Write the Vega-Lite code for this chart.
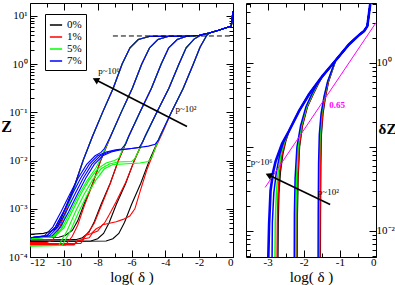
{
"$schema":"https://vega.github.io/schema/vega-lite/v6.json",
"padding":{"left":0,"top":2,"right":1,"bottom":0},
"spacing":9,
"config":{"font":"Liberation Serif","view":{"stroke":"black","strokeWidth":1},
"axis":{"domain":false,"grid":false,"labelFont":"Liberation Serif","titleFont":"Liberation Serif","labelFontSize":11,"titleFontSize":15,"titleFontWeight":"normal","tickColor":"black","labelColor":"black","titleColor":"black","tickWidth":1},
"legend":{"labelFont":"Liberation Serif"}},
"datasets":{
"L":[
{"c":"0%","k":0,"x":-12,"z":0.000295},{"c":"0%","k":0,"x":-11.2,"z":0.000309},{"c":"0%","k":0,"x":-10.8,"z":0.000339},{"c":"0%","k":0,"x":-10.46,"z":0.000389},{"c":"0%","k":0,"x":-10.16,"z":0.000617},{"c":"0%","k":0,"x":-9.8,"z":0.00129},{"c":"0%","k":0,"x":-9.31,"z":0.00347},{"c":"0%","k":0,"x":-8.86,"z":0.0102},
{"c":"0%","k":0,"x":-8.31,"z":0.0316},{"c":"0%","k":0,"x":-7.71,"z":0.1},{"c":"0%","k":0,"x":-7.08,"z":0.316},{"c":"0%","k":0,"x":-6.56,"z":1},{"c":"0%","k":0,"x":-6.09,"z":2.19},{"c":"0%","k":0,"x":-5.6,"z":3.24},{"c":"0%","k":0,"x":-4.9,"z":3.8},{"c":"0%","k":0,"x":-3.5,"z":3.78},{"c":"0%","k":0,"x":-2.5,"z":3.85},{"c":"0%","k":0,"x":-2,"z":3.98},{"c":"0%","k":0,"x":-1.4,"z":4.42},{"c":"0%","k":0,"x":-0.8,"z":5.13},{"c":"0%","k":0,"x":-0.1,"z":6.17},{"c":"0%","k":0,"x":0,"z":12.6},
{"c":"0%","k":1,"x":-12,"z":0.000251},{"c":"0%","k":1,"x":-10.3,"z":0.000257},{"c":"0%","k":1,"x":-9.9,"z":0.000282},{"c":"0%","k":1,"x":-9.5,"z":0.000355},{"c":"0%","k":1,"x":-9.18,"z":0.000562},{"c":"0%","k":1,"x":-8.8,"z":0.00126},{"c":"0%","k":1,"x":-8.29,"z":0.00339},{"c":"0%","k":1,"x":-7.82,"z":0.0102},
{"c":"0%","k":1,"x":-7.24,"z":0.0316},{"c":"0%","k":1,"x":-6.61,"z":0.1},{"c":"0%","k":1,"x":-5.95,"z":0.316},{"c":"0%","k":1,"x":-5.4,"z":1},{"c":"0%","k":1,"x":-4.93,"z":2.19},{"c":"0%","k":1,"x":-4.44,"z":3.24},{"c":"0%","k":1,"x":-3.8,"z":3.8},{"c":"0%","k":1,"x":-2.5,"z":3.85},{"c":"0%","k":1,"x":-2,"z":3.98},{"c":"0%","k":1,"x":-1.4,"z":4.42},{"c":"0%","k":1,"x":-0.8,"z":5.13},{"c":"0%","k":1,"x":-0.1,"z":6.17},{"c":"0%","k":1,"x":0,"z":12.6},
{"c":"0%","k":2,"x":-12,"z":0.000224},{"c":"0%","k":2,"x":-9.3,"z":0.000229},{"c":"0%","k":2,"x":-8.9,"z":0.000251},{"c":"0%","k":2,"x":-8.52,"z":0.000324},{"c":"0%","k":2,"x":-8.2,"z":0.000537},{"c":"0%","k":2,"x":-7.8,"z":0.00123},{"c":"0%","k":2,"x":-7.26,"z":0.00339},{"c":"0%","k":2,"x":-6.77,"z":0.0102},
{"c":"0%","k":2,"x":-6.17,"z":0.0316},{"c":"0%","k":2,"x":-5.51,"z":0.1},{"c":"0%","k":2,"x":-4.82,"z":0.316},{"c":"0%","k":2,"x":-4.25,"z":1},{"c":"0%","k":2,"x":-3.8,"z":2.19},{"c":"0%","k":2,"x":-3.3,"z":3.24},{"c":"0%","k":2,"x":-2.7,"z":3.85},{"c":"0%","k":2,"x":-2,"z":3.98},{"c":"0%","k":2,"x":-1.4,"z":4.42},{"c":"0%","k":2,"x":-0.8,"z":5.13},{"c":"0%","k":2,"x":-0.1,"z":6.17},{"c":"0%","k":2,"x":0,"z":12.6},
{"c":"0%","k":3,"x":-12,"z":0.000209},{"c":"0%","k":3,"x":-8.4,"z":0.000214},{"c":"0%","k":3,"x":-8.0,"z":0.00024},{"c":"0%","k":3,"x":-7.65,"z":0.000309},{"c":"0%","k":3,"x":-7.31,"z":0.000525},{"c":"0%","k":3,"x":-6.9,"z":0.00123},{"c":"0%","k":3,"x":-6.34,"z":0.00339},{"c":"0%","k":3,"x":-5.83,"z":0.0102},
{"c":"0%","k":3,"x":-5.2,"z":0.0316},{"c":"0%","k":3,"x":-4.51,"z":0.1},{"c":"0%","k":3,"x":-3.79,"z":0.316},{"c":"0%","k":3,"x":-3.2,"z":1},{"c":"0%","k":3,"x":-2.77,"z":2.19},{"c":"0%","k":3,"x":-2.3,"z":3.31},{"c":"0%","k":3,"x":-1.9,"z":4.03},{"c":"0%","k":3,"x":-1.4,"z":4.42},{"c":"0%","k":3,"x":-0.8,"z":5.13},{"c":"0%","k":3,"x":-0.1,"z":6.17},{"c":"0%","k":3,"x":0,"z":12.6},
{"c":"0%","k":4,"x":-12,"z":0.000209},{"c":"0%","k":4,"x":-7.5,"z":0.000214},{"c":"0%","k":4,"x":-7.1,"z":0.00024},{"c":"0%","k":4,"x":-6.75,"z":0.000309},{"c":"0%","k":4,"x":-6.41,"z":0.000525},{"c":"0%","k":4,"x":-6.0,"z":0.00123},{"c":"0%","k":4,"x":-5.45,"z":0.00339},{"c":"0%","k":4,"x":-4.94,"z":0.0102},
{"c":"0%","k":4,"x":-4.32,"z":0.0316},{"c":"0%","k":4,"x":-3.65,"z":0.1},{"c":"0%","k":4,"x":-2.94,"z":0.316},{"c":"0%","k":4,"x":-2.35,"z":1},{"c":"0%","k":4,"x":-1.95,"z":2.24},{"c":"0%","k":4,"x":-1.55,"z":3.98},{"c":"0%","k":4,"x":-1.4,"z":4.42},{"c":"0%","k":4,"x":-0.8,"z":5.13},{"c":"0%","k":4,"x":-0.1,"z":6.17},{"c":"0%","k":4,"x":0,"z":12.6},

{"c":"1%","k":0,"x":-12,"z":0.0002},{"c":"1%","k":0,"x":-11,"z":0.0002},{"c":"1%","k":0,"x":-10.7,"z":0.000219},{"c":"1%","k":0,"x":-10.46,"z":0.000282},{"c":"1%","k":0,"x":-10.16,"z":0.00049},{"c":"1%","k":0,"x":-9.8,"z":0.00112},{"c":"1%","k":0,"x":-9.31,"z":0.00331},{"c":"1%","k":0,"x":-8.86,"z":0.01},
{"c":"1%","k":0,"x":-8.31,"z":0.0316},{"c":"1%","k":0,"x":-7.71,"z":0.1},{"c":"1%","k":0,"x":-7.08,"z":0.316},{"c":"1%","k":0,"x":-6.56,"z":1},{"c":"1%","k":0,"x":-6.09,"z":2.19},{"c":"1%","k":0,"x":-5.6,"z":3.24},{"c":"1%","k":0,"x":-4.9,"z":3.8},{"c":"1%","k":0,"x":-3.5,"z":3.78},{"c":"1%","k":0,"x":-2.5,"z":3.85},{"c":"1%","k":0,"x":-2,"z":3.98},{"c":"1%","k":0,"x":-1.4,"z":4.42},{"c":"1%","k":0,"x":-0.8,"z":5.13},{"c":"1%","k":0,"x":-0.1,"z":6.17},{"c":"1%","k":0,"x":0,"z":12.6},
{"c":"1%","k":1,"x":-12,"z":0.000174},{"c":"1%","k":1,"x":-9.9,"z":0.000178},{"c":"1%","k":1,"x":-9.5,"z":0.000269},{"c":"1%","k":1,"x":-9.18,"z":0.000457},{"c":"1%","k":1,"x":-8.8,"z":0.00112},{"c":"1%","k":1,"x":-8.29,"z":0.00331},{"c":"1%","k":1,"x":-7.82,"z":0.01},
{"c":"1%","k":1,"x":-7.24,"z":0.0316},{"c":"1%","k":1,"x":-6.61,"z":0.1},{"c":"1%","k":1,"x":-5.95,"z":0.316},{"c":"1%","k":1,"x":-5.4,"z":1},{"c":"1%","k":1,"x":-4.93,"z":2.19},{"c":"1%","k":1,"x":-4.44,"z":3.24},{"c":"1%","k":1,"x":-3.8,"z":3.8},{"c":"1%","k":1,"x":-2.5,"z":3.85},{"c":"1%","k":1,"x":-2,"z":3.98},{"c":"1%","k":1,"x":-1.4,"z":4.42},{"c":"1%","k":1,"x":-0.8,"z":5.13},{"c":"1%","k":1,"x":-0.1,"z":6.17},{"c":"1%","k":1,"x":0,"z":12.6},
{"c":"1%","k":2,"x":-12,"z":0.000178},{"c":"1%","k":2,"x":-9.4,"z":0.000178},{"c":"1%","k":2,"x":-9.2,"z":0.000209},{"c":"1%","k":2,"x":-8.9,"z":0.000229},{"c":"1%","k":2,"x":-8.52,"z":0.000339},{"c":"1%","k":2,"x":-8.2,"z":0.000501},{"c":"1%","k":2,"x":-7.8,"z":0.00112},{"c":"1%","k":2,"x":-7.26,"z":0.00331},{"c":"1%","k":2,"x":-6.77,"z":0.01},
{"c":"1%","k":2,"x":-6.17,"z":0.0316},{"c":"1%","k":2,"x":-5.51,"z":0.1},{"c":"1%","k":2,"x":-4.82,"z":0.316},{"c":"1%","k":2,"x":-4.25,"z":1},{"c":"1%","k":2,"x":-3.8,"z":2.19},{"c":"1%","k":2,"x":-3.3,"z":3.24},{"c":"1%","k":2,"x":-2.7,"z":3.85},{"c":"1%","k":2,"x":-2,"z":3.98},{"c":"1%","k":2,"x":-1.4,"z":4.42},{"c":"1%","k":2,"x":-0.8,"z":5.13},{"c":"1%","k":2,"x":-0.1,"z":6.17},{"c":"1%","k":2,"x":0,"z":12.6},
{"c":"1%","k":3,"x":-12,"z":0.000182},{"c":"1%","k":3,"x":-9.4,"z":0.000182},{"c":"1%","k":3,"x":-9.2,"z":0.000219},{"c":"1%","k":3,"x":-8.9,"z":0.000229},{"c":"1%","k":3,"x":-8.7,"z":0.000282},{"c":"1%","k":3,"x":-8.4,"z":0.000302},{"c":"1%","k":3,"x":-8.1,"z":0.00038},{"c":"1%","k":3,"x":-7.8,"z":0.000437},{"c":"1%","k":3,"x":-7.6,"z":0.000501},{"c":"1%","k":3,"x":-7.31,"z":0.000759},{"c":"1%","k":3,"x":-6.9,"z":0.00141},{"c":"1%","k":3,"x":-6.34,"z":0.00355},{"c":"1%","k":3,"x":-5.83,"z":0.01},
{"c":"1%","k":3,"x":-5.2,"z":0.0316},{"c":"1%","k":3,"x":-4.51,"z":0.1},{"c":"1%","k":3,"x":-3.79,"z":0.316},{"c":"1%","k":3,"x":-3.2,"z":1},{"c":"1%","k":3,"x":-2.77,"z":2.19},{"c":"1%","k":3,"x":-2.3,"z":3.31},{"c":"1%","k":3,"x":-1.9,"z":4.03},{"c":"1%","k":3,"x":-1.4,"z":4.42},{"c":"1%","k":3,"x":-0.8,"z":5.13},{"c":"1%","k":3,"x":-0.1,"z":6.17},{"c":"1%","k":3,"x":0,"z":12.6},
{"c":"1%","k":4,"x":-12,"z":0.000191},{"c":"1%","k":4,"x":-9.0,"z":0.000191},{"c":"1%","k":4,"x":-8.8,"z":0.00024},{"c":"1%","k":4,"x":-8.5,"z":0.000251},{"c":"1%","k":4,"x":-8.3,"z":0.000316},{"c":"1%","k":4,"x":-8.0,"z":0.000347},{"c":"1%","k":4,"x":-7.7,"z":0.000468},{"c":"1%","k":4,"x":-7.3,"z":0.000501},{"c":"1%","k":4,"x":-6.9,"z":0.000537},{"c":"1%","k":4,"x":-6.5,"z":0.000603},{"c":"1%","k":4,"x":-6.1,"z":0.000708},{"c":"1%","k":4,"x":-5.8,"z":0.001},{"c":"1%","k":4,"x":-5.5,"z":0.00224},{"c":"1%","k":4,"x":-5.1,"z":0.00631},{"c":"1%","k":4,"x":-4.6,"z":0.0178},{"c":"1%","k":4,"x":-4.14,"z":0.0398},
{"c":"1%","k":4,"x":-3.65,"z":0.1},{"c":"1%","k":4,"x":-2.94,"z":0.316},{"c":"1%","k":4,"x":-2.35,"z":1},{"c":"1%","k":4,"x":-1.95,"z":2.24},{"c":"1%","k":4,"x":-1.55,"z":3.98},{"c":"1%","k":4,"x":-1.4,"z":4.42},{"c":"1%","k":4,"x":-0.8,"z":5.13},{"c":"1%","k":4,"x":-0.1,"z":6.17},{"c":"1%","k":4,"x":0,"z":12.6},

{"c":"5%","k":0,"x":-12,"z":0.00024},{"c":"5%","k":0,"x":-10.6,"z":0.000263},{"c":"5%","k":0,"x":-10.3,"z":0.000316},{"c":"5%","k":0,"x":-10.16,"z":0.00038},{"c":"5%","k":0,"x":-9.8,"z":0.001},{"c":"5%","k":0,"x":-9.31,"z":0.00316},{"c":"5%","k":0,"x":-8.86,"z":0.01},
{"c":"5%","k":0,"x":-8.31,"z":0.0316},{"c":"5%","k":0,"x":-7.71,"z":0.1},{"c":"5%","k":0,"x":-7.08,"z":0.316},{"c":"5%","k":0,"x":-6.56,"z":1},{"c":"5%","k":0,"x":-6.09,"z":2.19},{"c":"5%","k":0,"x":-5.6,"z":3.24},{"c":"5%","k":0,"x":-4.9,"z":3.8},{"c":"5%","k":0,"x":-3.5,"z":3.78},{"c":"5%","k":0,"x":-2.5,"z":3.85},{"c":"5%","k":0,"x":-2,"z":3.98},{"c":"5%","k":0,"x":-1.4,"z":4.42},{"c":"5%","k":0,"x":-0.8,"z":5.13},{"c":"5%","k":0,"x":-0.1,"z":6.17},{"c":"5%","k":0,"x":0,"z":12.6},
{"c":"5%","k":1,"x":-12,"z":0.00024},{"c":"5%","k":1,"x":-10.7,"z":0.000263},{"c":"5%","k":1,"x":-10.1,"z":0.000398},{"c":"5%","k":1,"x":-9.6,"z":0.000891},{"c":"5%","k":1,"x":-9.1,"z":0.002},{"c":"5%","k":1,"x":-8.6,"z":0.00398},{"c":"5%","k":1,"x":-8.1,"z":0.00708},{"c":"5%","k":1,"x":-7.85,"z":0.0105},
{"c":"5%","k":1,"x":-7.24,"z":0.0316},{"c":"5%","k":1,"x":-6.61,"z":0.1},{"c":"5%","k":1,"x":-5.95,"z":0.316},{"c":"5%","k":1,"x":-5.4,"z":1},{"c":"5%","k":1,"x":-4.93,"z":2.19},{"c":"5%","k":1,"x":-4.44,"z":3.24},{"c":"5%","k":1,"x":-3.8,"z":3.8},{"c":"5%","k":1,"x":-2.5,"z":3.85},{"c":"5%","k":1,"x":-2,"z":3.98},{"c":"5%","k":1,"x":-1.4,"z":4.42},{"c":"5%","k":1,"x":-0.8,"z":5.13},{"c":"5%","k":1,"x":-0.1,"z":6.17},{"c":"5%","k":1,"x":0,"z":12.6},
{"c":"5%","k":2,"x":-12,"z":0.00024},{"c":"5%","k":2,"x":-10.6,"z":0.000263},{"c":"5%","k":2,"x":-10,"z":0.000398},{"c":"5%","k":2,"x":-9.5,"z":0.000891},{"c":"5%","k":2,"x":-9,"z":0.002},{"c":"5%","k":2,"x":-8.5,"z":0.00398},{"c":"5%","k":2,"x":-8,"z":0.00676},{"c":"5%","k":2,"x":-7.5,"z":0.00891},{"c":"5%","k":2,"x":-7,"z":0.01},{"c":"5%","k":2,"x":-6.75,"z":0.0112},{"c":"5%","k":2,"x":-6.5,"z":0.0178},
{"c":"5%","k":2,"x":-6.17,"z":0.0316},{"c":"5%","k":2,"x":-5.51,"z":0.1},{"c":"5%","k":2,"x":-4.82,"z":0.316},{"c":"5%","k":2,"x":-4.25,"z":1},{"c":"5%","k":2,"x":-3.8,"z":2.19},{"c":"5%","k":2,"x":-3.3,"z":3.24},{"c":"5%","k":2,"x":-2.7,"z":3.85},{"c":"5%","k":2,"x":-2,"z":3.98},{"c":"5%","k":2,"x":-1.4,"z":4.42},{"c":"5%","k":2,"x":-0.8,"z":5.13},{"c":"5%","k":2,"x":-0.1,"z":6.17},{"c":"5%","k":2,"x":0,"z":12.6},
{"c":"5%","k":3,"x":-12,"z":0.00017},{"c":"5%","k":3,"x":-10.3,"z":0.000174},{"c":"5%","k":3,"x":-9.8,"z":0.000355},{"c":"5%","k":3,"x":-9.3,"z":0.000891},{"c":"5%","k":3,"x":-8.8,"z":0.002},{"c":"5%","k":3,"x":-8.3,"z":0.00398},{"c":"5%","k":3,"x":-7.8,"z":0.00676},{"c":"5%","k":3,"x":-7.3,"z":0.00851},{"c":"5%","k":3,"x":-6.8,"z":0.00933},{"c":"5%","k":3,"x":-6.0,"z":0.00955},{"c":"5%","k":3,"x":-5.8,"z":0.011},{"c":"5%","k":3,"x":-5.55,"z":0.0166},
{"c":"5%","k":3,"x":-5.2,"z":0.0316},{"c":"5%","k":3,"x":-4.51,"z":0.1},{"c":"5%","k":3,"x":-3.79,"z":0.316},{"c":"5%","k":3,"x":-3.2,"z":1},{"c":"5%","k":3,"x":-2.77,"z":2.19},{"c":"5%","k":3,"x":-2.3,"z":3.31},{"c":"5%","k":3,"x":-1.9,"z":4.03},{"c":"5%","k":3,"x":-1.4,"z":4.42},{"c":"5%","k":3,"x":-0.8,"z":5.13},{"c":"5%","k":3,"x":-0.1,"z":6.17},{"c":"5%","k":3,"x":0,"z":12.6},
{"c":"5%","k":4,"x":-12,"z":0.00017},{"c":"5%","k":4,"x":-10.1,"z":0.000174},{"c":"5%","k":4,"x":-9.6,"z":0.000355},{"c":"5%","k":4,"x":-9.1,"z":0.000891},{"c":"5%","k":4,"x":-8.6,"z":0.002},{"c":"5%","k":4,"x":-8.1,"z":0.00398},{"c":"5%","k":4,"x":-7.6,"z":0.00676},{"c":"5%","k":4,"x":-7.1,"z":0.00832},{"c":"5%","k":4,"x":-6.5,"z":0.00851},{"c":"5%","k":4,"x":-5.5,"z":0.00891},{"c":"5%","k":4,"x":-5.0,"z":0.00955},{"c":"5%","k":4,"x":-4.8,"z":0.0117},{"c":"5%","k":4,"x":-4.55,"z":0.02},
{"c":"5%","k":4,"x":-4.32,"z":0.0316},{"c":"5%","k":4,"x":-3.65,"z":0.1},{"c":"5%","k":4,"x":-2.94,"z":0.316},{"c":"5%","k":4,"x":-2.35,"z":1},{"c":"5%","k":4,"x":-1.95,"z":2.24},{"c":"5%","k":4,"x":-1.55,"z":3.98},{"c":"5%","k":4,"x":-1.4,"z":4.42},{"c":"5%","k":4,"x":-0.8,"z":5.13},{"c":"5%","k":4,"x":-0.1,"z":6.17},{"c":"5%","k":4,"x":0,"z":12.6},

{"c":"7%","k":0,"x":-12,"z":0.000251},{"c":"7%","k":0,"x":-11,"z":0.000275},{"c":"7%","k":0,"x":-10.5,"z":0.000417},{"c":"7%","k":0,"x":-10,"z":0.000891},{"c":"7%","k":0,"x":-9.6,"z":0.00178},{"c":"7%","k":0,"x":-9.31,"z":0.00339},{"c":"7%","k":0,"x":-8.86,"z":0.01},
{"c":"7%","k":0,"x":-8.31,"z":0.0316},{"c":"7%","k":0,"x":-7.71,"z":0.1},{"c":"7%","k":0,"x":-7.08,"z":0.316},{"c":"7%","k":0,"x":-6.56,"z":1},{"c":"7%","k":0,"x":-6.09,"z":2.19},{"c":"7%","k":0,"x":-5.6,"z":3.24},{"c":"7%","k":0,"x":-4.9,"z":3.8},{"c":"7%","k":0,"x":-3.5,"z":3.78},{"c":"7%","k":0,"x":-2.5,"z":3.85},{"c":"7%","k":0,"x":-2,"z":3.98},{"c":"7%","k":0,"x":-1.4,"z":4.42},{"c":"7%","k":0,"x":-0.8,"z":5.13},{"c":"7%","k":0,"x":-0.1,"z":6.17},{"c":"7%","k":0,"x":0,"z":12.6},
{"c":"7%","k":1,"x":-12,"z":0.000251},{"c":"7%","k":1,"x":-11.15,"z":0.000275},{"c":"7%","k":1,"x":-10.65,"z":0.000417},{"c":"7%","k":1,"x":-10.15,"z":0.000891},{"c":"7%","k":1,"x":-9.65,"z":0.002},{"c":"7%","k":1,"x":-9.15,"z":0.00437},{"c":"7%","k":1,"x":-8.65,"z":0.00832},{"c":"7%","k":1,"x":-8.15,"z":0.0126},{"c":"7%","k":1,"x":-7.8,"z":0.0148},{"c":"7%","k":1,"x":-7.6,"z":0.0178},
{"c":"7%","k":1,"x":-7.24,"z":0.0316},{"c":"7%","k":1,"x":-6.61,"z":0.1},{"c":"7%","k":1,"x":-5.95,"z":0.316},{"c":"7%","k":1,"x":-5.4,"z":1},{"c":"7%","k":1,"x":-4.93,"z":2.19},{"c":"7%","k":1,"x":-4.44,"z":3.24},{"c":"7%","k":1,"x":-3.8,"z":3.8},{"c":"7%","k":1,"x":-2.5,"z":3.85},{"c":"7%","k":1,"x":-2,"z":3.98},{"c":"7%","k":1,"x":-1.4,"z":4.42},{"c":"7%","k":1,"x":-0.8,"z":5.13},{"c":"7%","k":1,"x":-0.1,"z":6.17},{"c":"7%","k":1,"x":0,"z":12.6},
{"c":"7%","k":2,"x":-12,"z":0.000251},{"c":"7%","k":2,"x":-11,"z":0.000275},{"c":"7%","k":2,"x":-10.5,"z":0.000417},{"c":"7%","k":2,"x":-10,"z":0.000891},{"c":"7%","k":2,"x":-9.5,"z":0.002},{"c":"7%","k":2,"x":-9,"z":0.00437},{"c":"7%","k":2,"x":-8.5,"z":0.00832},{"c":"7%","k":2,"x":-8,"z":0.0126},{"c":"7%","k":2,"x":-7.5,"z":0.0151},{"c":"7%","k":2,"x":-7,"z":0.0166},{"c":"7%","k":2,"x":-6.6,"z":0.0174},{"c":"7%","k":2,"x":-6.35,"z":0.0219},
{"c":"7%","k":2,"x":-6.17,"z":0.0316},{"c":"7%","k":2,"x":-5.51,"z":0.1},{"c":"7%","k":2,"x":-4.82,"z":0.316},{"c":"7%","k":2,"x":-4.25,"z":1},{"c":"7%","k":2,"x":-3.8,"z":2.19},{"c":"7%","k":2,"x":-3.3,"z":3.24},{"c":"7%","k":2,"x":-2.7,"z":3.85},{"c":"7%","k":2,"x":-2,"z":3.98},{"c":"7%","k":2,"x":-1.4,"z":4.42},{"c":"7%","k":2,"x":-0.8,"z":5.13},{"c":"7%","k":2,"x":-0.1,"z":6.17},{"c":"7%","k":2,"x":0,"z":12.6},
{"c":"7%","k":3,"x":-12,"z":0.000251},{"c":"7%","k":3,"x":-10.85,"z":0.000275},{"c":"7%","k":3,"x":-10.35,"z":0.000417},{"c":"7%","k":3,"x":-9.85,"z":0.000891},{"c":"7%","k":3,"x":-9.35,"z":0.002},{"c":"7%","k":3,"x":-8.85,"z":0.00437},{"c":"7%","k":3,"x":-8.35,"z":0.00832},{"c":"7%","k":3,"x":-7.85,"z":0.0126},{"c":"7%","k":3,"x":-7.35,"z":0.0151},{"c":"7%","k":3,"x":-6.85,"z":0.0166},{"c":"7%","k":3,"x":-6,"z":0.0178},{"c":"7%","k":3,"x":-5.55,"z":0.0186},{"c":"7%","k":3,"x":-5.35,"z":0.024},
{"c":"7%","k":3,"x":-5.2,"z":0.0316},{"c":"7%","k":3,"x":-4.51,"z":0.1},{"c":"7%","k":3,"x":-3.79,"z":0.316},{"c":"7%","k":3,"x":-3.2,"z":1},{"c":"7%","k":3,"x":-2.77,"z":2.19},{"c":"7%","k":3,"x":-2.3,"z":3.31},{"c":"7%","k":3,"x":-1.9,"z":4.03},{"c":"7%","k":3,"x":-1.4,"z":4.42},{"c":"7%","k":3,"x":-0.8,"z":5.13},{"c":"7%","k":3,"x":-0.1,"z":6.17},{"c":"7%","k":3,"x":0,"z":12.6},
{"c":"7%","k":4,"x":-12,"z":0.000251},{"c":"7%","k":4,"x":-10.7,"z":0.000275},{"c":"7%","k":4,"x":-10.2,"z":0.000417},{"c":"7%","k":4,"x":-9.7,"z":0.000891},{"c":"7%","k":4,"x":-9.2,"z":0.002},{"c":"7%","k":4,"x":-8.7,"z":0.00437},{"c":"7%","k":4,"x":-8.2,"z":0.00832},{"c":"7%","k":4,"x":-7.7,"z":0.0126},{"c":"7%","k":4,"x":-7.2,"z":0.0151},{"c":"7%","k":4,"x":-6.7,"z":0.0166},{"c":"7%","k":4,"x":-6,"z":0.0178},{"c":"7%","k":4,"x":-5,"z":0.02},{"c":"7%","k":4,"x":-4.6,"z":0.0219},{"c":"7%","k":4,"x":-4.42,"z":0.0263},
{"c":"7%","k":4,"x":-4.32,"z":0.0316},{"c":"7%","k":4,"x":-3.65,"z":0.1},{"c":"7%","k":4,"x":-2.94,"z":0.316},{"c":"7%","k":4,"x":-2.35,"z":1},{"c":"7%","k":4,"x":-1.95,"z":2.24},{"c":"7%","k":4,"x":-1.55,"z":3.98},{"c":"7%","k":4,"x":-1.4,"z":4.42},{"c":"7%","k":4,"x":-0.8,"z":5.13},{"c":"7%","k":4,"x":-0.1,"z":6.17},{"c":"7%","k":4,"x":0,"z":12.6}
],
"R":[
{"c":"0%","k":"g1","x":-2.72,"dz":0.00355},{"c":"0%","k":"g1","x":-2.71,"dz":0.0126},{"c":"0%","k":"g1","x":-2.69,"dz":0.0282},{"c":"0%","k":"g1","x":-2.65,"dz":0.0501},{"c":"0%","k":"g1","x":-2.58,"dz":0.0832},{"c":"0%","k":"g1","x":-2.5,"dz":0.1175},{"c":"0%","k":"g1","x":-2.41,"dz":0.155},{"c":"0%","k":"g1","x":-2.13,"dz":0.269},{"c":"0%","k":"g1","x":-1.85,"dz":0.427},{"c":"0%","k":"g1","x":-1.49,"dz":0.692},{"c":"0%","k":"g1","x":-1.12,"dz":1.072},{"c":"0%","k":"g1","x":-0.75,"dz":1.66},{"c":"0%","k":"g1","x":-0.45,"dz":2.19},{"c":"0%","k":"g1","x":-0.33,"dz":2.4},{"c":"0%","k":"g1","x":-0.24,"dz":2.75},{"c":"0%","k":"g1","x":-0.13,"dz":6.31},
{"c":"0%","k":"g2","x":-2.185,"dz":0.00355},{"c":"0%","k":"g2","x":-2.18,"dz":0.0158},{"c":"0%","k":"g2","x":-2.16,"dz":0.0427},{"c":"0%","k":"g2","x":-2.12,"dz":0.1},{"c":"0%","k":"g2","x":-2.04,"dz":0.178},{"c":"0%","k":"g2","x":-1.9,"dz":0.302},{"c":"0%","k":"g2","x":-1.75,"dz":0.417},{"c":"0%","k":"g2","x":-1.6,"dz":0.562},{"c":"0%","k":"g2","x":-1.49,"dz":0.692},{"c":"0%","k":"g2","x":-1.12,"dz":1.072},{"c":"0%","k":"g2","x":-0.75,"dz":1.66},{"c":"0%","k":"g2","x":-0.45,"dz":2.19},{"c":"0%","k":"g2","x":-0.33,"dz":2.4},{"c":"0%","k":"g2","x":-0.24,"dz":2.75},{"c":"0%","k":"g2","x":-0.13,"dz":6.31},
{"c":"0%","k":"g3","x":-1.545,"dz":0.00355},{"c":"0%","k":"g3","x":-1.54,"dz":0.0158},{"c":"0%","k":"g3","x":-1.53,"dz":0.0631},{"c":"0%","k":"g3","x":-1.515,"dz":0.141},{"c":"0%","k":"g3","x":-1.47,"dz":0.251},{"c":"0%","k":"g3","x":-1.4,"dz":0.398},{"c":"0%","k":"g3","x":-1.315,"dz":0.603},{"c":"0%","k":"g3","x":-1.205,"dz":0.832},{"c":"0%","k":"g3","x":-1.12,"dz":1.072},{"c":"0%","k":"g3","x":-0.75,"dz":1.66},{"c":"0%","k":"g3","x":-0.45,"dz":2.19},{"c":"0%","k":"g3","x":-0.33,"dz":2.4},{"c":"0%","k":"g3","x":-0.24,"dz":2.75},{"c":"0%","k":"g3","x":-0.13,"dz":6.31},

{"c":"1%","k":"g1","x":-2.74,"dz":0.00355},{"c":"1%","k":"g1","x":-2.73,"dz":0.0126},{"c":"1%","k":"g1","x":-2.71,"dz":0.0282},{"c":"1%","k":"g1","x":-2.67,"dz":0.0501},{"c":"1%","k":"g1","x":-2.6,"dz":0.0832},{"c":"1%","k":"g1","x":-2.51,"dz":0.1175},{"c":"1%","k":"g1","x":-2.41,"dz":0.155},{"c":"1%","k":"g1","x":-2.13,"dz":0.269},{"c":"1%","k":"g1","x":-1.85,"dz":0.427},{"c":"1%","k":"g1","x":-1.49,"dz":0.692},{"c":"1%","k":"g1","x":-1.12,"dz":1.072},{"c":"1%","k":"g1","x":-0.75,"dz":1.66},{"c":"1%","k":"g1","x":-0.45,"dz":2.19},{"c":"1%","k":"g1","x":-0.33,"dz":2.4},{"c":"1%","k":"g1","x":-0.24,"dz":2.75},{"c":"1%","k":"g1","x":-0.13,"dz":6.31},
{"c":"1%","k":"g2","x":-2.195,"dz":0.00355},{"c":"1%","k":"g2","x":-2.19,"dz":0.0158},{"c":"1%","k":"g2","x":-2.17,"dz":0.0427},{"c":"1%","k":"g2","x":-2.13,"dz":0.1},{"c":"1%","k":"g2","x":-2.05,"dz":0.178},{"c":"1%","k":"g2","x":-1.91,"dz":0.302},{"c":"1%","k":"g2","x":-1.76,"dz":0.417},{"c":"1%","k":"g2","x":-1.61,"dz":0.562},{"c":"1%","k":"g2","x":-1.49,"dz":0.692},{"c":"1%","k":"g2","x":-1.12,"dz":1.072},{"c":"1%","k":"g2","x":-0.75,"dz":1.66},{"c":"1%","k":"g2","x":-0.45,"dz":2.19},{"c":"1%","k":"g2","x":-0.33,"dz":2.4},{"c":"1%","k":"g2","x":-0.24,"dz":2.75},{"c":"1%","k":"g2","x":-0.13,"dz":6.31},
{"c":"1%","k":"g3","x":-1.555,"dz":0.00355},{"c":"1%","k":"g3","x":-1.55,"dz":0.0158},{"c":"1%","k":"g3","x":-1.54,"dz":0.0631},{"c":"1%","k":"g3","x":-1.525,"dz":0.141},{"c":"1%","k":"g3","x":-1.48,"dz":0.251},{"c":"1%","k":"g3","x":-1.41,"dz":0.398},{"c":"1%","k":"g3","x":-1.32,"dz":0.603},{"c":"1%","k":"g3","x":-1.21,"dz":0.832},{"c":"1%","k":"g3","x":-1.12,"dz":1.072},{"c":"1%","k":"g3","x":-0.75,"dz":1.66},{"c":"1%","k":"g3","x":-0.45,"dz":2.19},{"c":"1%","k":"g3","x":-0.33,"dz":2.4},{"c":"1%","k":"g3","x":-0.24,"dz":2.75},{"c":"1%","k":"g3","x":-0.13,"dz":6.31},

{"c":"5%","k":"g1","x":-2.8,"dz":0.00355},{"c":"5%","k":"g1","x":-2.79,"dz":0.0126},{"c":"5%","k":"g1","x":-2.76,"dz":0.0282},{"c":"5%","k":"g1","x":-2.71,"dz":0.0501},{"c":"5%","k":"g1","x":-2.63,"dz":0.0832},{"c":"5%","k":"g1","x":-2.53,"dz":0.1175},{"c":"5%","k":"g1","x":-2.41,"dz":0.155},{"c":"5%","k":"g1","x":-2.13,"dz":0.269},{"c":"5%","k":"g1","x":-1.85,"dz":0.427},{"c":"5%","k":"g1","x":-1.49,"dz":0.692},{"c":"5%","k":"g1","x":-1.12,"dz":1.072},{"c":"5%","k":"g1","x":-0.75,"dz":1.66},{"c":"5%","k":"g1","x":-0.45,"dz":2.19},{"c":"5%","k":"g1","x":-0.33,"dz":2.4},{"c":"5%","k":"g1","x":-0.24,"dz":2.75},{"c":"5%","k":"g1","x":-0.13,"dz":6.31},
{"c":"5%","k":"g2","x":-2.225,"dz":0.00355},{"c":"5%","k":"g2","x":-2.22,"dz":0.0158},{"c":"5%","k":"g2","x":-2.2,"dz":0.0427},{"c":"5%","k":"g2","x":-2.16,"dz":0.1},{"c":"5%","k":"g2","x":-2.07,"dz":0.178},{"c":"5%","k":"g2","x":-1.92,"dz":0.302},{"c":"5%","k":"g2","x":-1.77,"dz":0.417},{"c":"5%","k":"g2","x":-1.62,"dz":0.562},{"c":"5%","k":"g2","x":-1.49,"dz":0.692},{"c":"5%","k":"g2","x":-1.12,"dz":1.072},{"c":"5%","k":"g2","x":-0.75,"dz":1.66},{"c":"5%","k":"g2","x":-0.45,"dz":2.19},{"c":"5%","k":"g2","x":-0.33,"dz":2.4},{"c":"5%","k":"g2","x":-0.24,"dz":2.75},{"c":"5%","k":"g2","x":-0.13,"dz":6.31},
{"c":"5%","k":"g3","x":-1.585,"dz":0.00355},{"c":"5%","k":"g3","x":-1.58,"dz":0.0158},{"c":"5%","k":"g3","x":-1.57,"dz":0.0631},{"c":"5%","k":"g3","x":-1.55,"dz":0.141},{"c":"5%","k":"g3","x":-1.505,"dz":0.251},{"c":"5%","k":"g3","x":-1.43,"dz":0.398},{"c":"5%","k":"g3","x":-1.335,"dz":0.603},{"c":"5%","k":"g3","x":-1.215,"dz":0.832},{"c":"5%","k":"g3","x":-1.12,"dz":1.072},{"c":"5%","k":"g3","x":-0.75,"dz":1.66},{"c":"5%","k":"g3","x":-0.45,"dz":2.19},{"c":"5%","k":"g3","x":-0.33,"dz":2.4},{"c":"5%","k":"g3","x":-0.24,"dz":2.75},{"c":"5%","k":"g3","x":-0.13,"dz":6.31},

{"c":"7%","k":"g1","x":-2.88,"dz":0.00355},{"c":"7%","k":"g1","x":-2.87,"dz":0.0126},{"c":"7%","k":"g1","x":-2.83,"dz":0.0282},{"c":"7%","k":"g1","x":-2.76,"dz":0.0501},{"c":"7%","k":"g1","x":-2.66,"dz":0.0832},{"c":"7%","k":"g1","x":-2.55,"dz":0.1175},{"c":"7%","k":"g1","x":-2.41,"dz":0.155},{"c":"7%","k":"g1","x":-2.13,"dz":0.269},{"c":"7%","k":"g1","x":-1.85,"dz":0.427},{"c":"7%","k":"g1","x":-1.49,"dz":0.692},{"c":"7%","k":"g1","x":-1.12,"dz":1.072},{"c":"7%","k":"g1","x":-0.75,"dz":1.66},{"c":"7%","k":"g1","x":-0.45,"dz":2.19},{"c":"7%","k":"g1","x":-0.33,"dz":2.4},{"c":"7%","k":"g1","x":-0.24,"dz":2.75},{"c":"7%","k":"g1","x":-0.13,"dz":6.31},
{"c":"7%","k":"g2","x":-2.265,"dz":0.00355},{"c":"7%","k":"g2","x":-2.26,"dz":0.0158},{"c":"7%","k":"g2","x":-2.24,"dz":0.0427},{"c":"7%","k":"g2","x":-2.19,"dz":0.1},{"c":"7%","k":"g2","x":-2.09,"dz":0.178},{"c":"7%","k":"g2","x":-1.94,"dz":0.302},{"c":"7%","k":"g2","x":-1.79,"dz":0.417},{"c":"7%","k":"g2","x":-1.63,"dz":0.562},{"c":"7%","k":"g2","x":-1.49,"dz":0.692},{"c":"7%","k":"g2","x":-1.12,"dz":1.072},{"c":"7%","k":"g2","x":-0.75,"dz":1.66},{"c":"7%","k":"g2","x":-0.45,"dz":2.19},{"c":"7%","k":"g2","x":-0.33,"dz":2.4},{"c":"7%","k":"g2","x":-0.24,"dz":2.75},{"c":"7%","k":"g2","x":-0.13,"dz":6.31},
{"c":"7%","k":"g3","x":-1.605,"dz":0.00355},{"c":"7%","k":"g3","x":-1.6,"dz":0.0158},{"c":"7%","k":"g3","x":-1.59,"dz":0.0631},{"c":"7%","k":"g3","x":-1.57,"dz":0.141},{"c":"7%","k":"g3","x":-1.52,"dz":0.251},{"c":"7%","k":"g3","x":-1.44,"dz":0.398},{"c":"7%","k":"g3","x":-1.34,"dz":0.603},{"c":"7%","k":"g3","x":-1.22,"dz":0.832},{"c":"7%","k":"g3","x":-1.12,"dz":1.072},{"c":"7%","k":"g3","x":-0.75,"dz":1.66},{"c":"7%","k":"g3","x":-0.45,"dz":2.19},{"c":"7%","k":"g3","x":-0.33,"dz":2.4},{"c":"7%","k":"g3","x":-0.24,"dz":2.75},{"c":"7%","k":"g3","x":-0.13,"dz":6.31}
],
"RO":[
{"x":-2.99,"dz":0.00355},{"x":-2.96,"dz":0.012},{"x":-2.92,"dz":0.0302},{"x":-2.85,"dz":0.0501},{"x":-2.78,"dz":0.0676},{"x":-2.6,"dz":0.1096},{"x":-2.41,"dz":0.155},{"x":-2.13,"dz":0.269},{"x":-1.85,"dz":0.427},{"x":-1.49,"dz":0.692},{"x":-1.12,"dz":1.072},{"x":-0.75,"dz":1.66},{"x":-0.45,"dz":2.19},{"x":-0.33,"dz":2.4},{"x":-0.24,"dz":2.75},{"x":-0.13,"dz":6.31}
]
},
"resolve":{"scale":{"color":"independent"},"legend":{"color":"independent"}},
"hconcat":[
{
"width":203,"height":254,
"resolve":{"axis":{"x":"independent","y":"independent"}},
"layer":[
{"data":{"name":"L"},"mark":{"type":"line","strokeWidth":1.1,"clip":true},
"encoding":{
"x":{"field":"x","type":"quantitative","scale":{"domain":[-12,0],"nice":false,"zero":false},
"axis":{"orient":"bottom","values":[-12,-11,-10,-9,-8,-7,-6,-5,-4,-3,-2,-1,0],"labelExpr":"datum.value % 2 == 0 ? (datum.value < 0 ? '-' + abs(datum.value) : '' + datum.value) : ''","tickSize":{"condition":{"test":"datum.value % 2 == 0","value":-7},"value":-4},"labelPadding":6,"title":"log( δ )","titleX":101.5,"titleY":24,"titleBaseline":"alphabetic"}},
"y":{"field":"z","type":"quantitative","scale":{"type":"log","domain":[0.0001,18.6],"nice":false},
"axis":{"orient":"left","values":[0.0001,0.0002,0.0003,0.0004,0.0005,0.0006,0.0007,0.0008,0.0009,0.001,0.002,0.003,0.004,0.005,0.006,0.007,0.008,0.009,0.01,0.02,0.03,0.04,0.05,0.06,0.07,0.08,0.09,0.1,0.2,0.3,0.4,0.5,0.6,0.7,0.8,0.9,1,2,3,4,5,6,7,8,9,10],
"labelExpr":"datum.value == 0.0001 ? '10⁻⁴' : datum.value == 0.001 ? '10⁻³' : datum.value == 0.01 ? '10⁻²' : datum.value == 0.1 ? '10⁻¹' : datum.value == 1 ? '10⁰' : datum.value == 10 ? '10¹' : ''",
"tickSize":{"condition":{"test":"indexof([0.0001,0.001,0.01,0.1,1,10], datum.value) >= 0","value":-7},"value":-4},"labelPadding":10,
"title":"Z","titleAngle":0,"titleX":-24,"titleY":123,"titleAlign":"center","titleBaseline":"middle","titleFontSize":16,"titleFontWeight":"bold"}},
"color":{"field":"c","type":"nominal","scale":{"domain":["0%","1%","5%","7%"],"range":["#000000","#ff0000","#00ff00","#0000ff"]},
"legend":{"title":null,"orient":"none","legendX":15,"legendY":11,"strokeColor":"black","fillColor":"white","padding":4,"labelFontSize":11,"symbolType":"stroke","symbolStrokeWidth":1.5,"symbolSize":150,"rowPadding":0,"labelOffset":4}},
"detail":{"field":"k","type":"nominal"}}},
{"data":{"values":[{"x":-7.1,"z":3.85},{"x":0,"z":3.85}]},"mark":{"type":"line","color":"black","strokeWidth":1,"strokeDash":[5,3]},
"encoding":{
"x":{"field":"x","type":"quantitative","axis":{"orient":"top","values":[-12,-11,-10,-9,-8,-7,-6,-5,-4,-3,-2,-1,0],"labels":false,"title":null,"tickSize":{"condition":{"test":"datum.value % 2 == 0","value":-7},"value":-4}}},
"y":{"field":"z","type":"quantitative","axis":{"orient":"right","values":[0.0001,0.0002,0.0003,0.0004,0.0005,0.0006,0.0007,0.0008,0.0009,0.001,0.002,0.003,0.004,0.005,0.006,0.007,0.008,0.009,0.01,0.02,0.03,0.04,0.05,0.06,0.07,0.08,0.09,0.1,0.2,0.3,0.4,0.5,0.6,0.7,0.8,0.9,1,2,3,4,5,6,7,8,9,10],"labels":false,"title":null,"tickSize":{"condition":{"test":"indexof([0.0001,0.001,0.01,0.1,1,10], datum.value) >= 0","value":-7},"value":-4}}}}},
{"data":{"values":[{"x":-2.72,"z":0.051},{"x":-8.12,"z":0.474}]},"mark":{"type":"line","color":"black","strokeWidth":1.6},
"encoding":{"x":{"field":"x","type":"quantitative","axis":null},"y":{"field":"z","type":"quantitative","axis":null}}},
{"data":{"values":[{"x":-8.12,"z":0.474}]},"mark":{"type":"point","shape":"triangle-left","filled":true,"color":"black","size":55,"angle":27,"opacity":1},
"encoding":{"x":{"field":"x","type":"quantitative","axis":null},"y":{"field":"z","type":"quantitative","axis":null}}},
{"data":{"values":[{"x":-7.33,"z":0.71,"t":"p~10⁶"},{"x":-2.78,"z":0.115,"t":"p~10²"}]},"mark":{"type":"text","font":"Liberation Serif","fontSize":9,"color":"black"},
"encoding":{"x":{"field":"x","type":"quantitative","axis":null},"y":{"field":"z","type":"quantitative","axis":null},"text":{"field":"t"}}}
]
},
{
"width":130,"height":254,
"resolve":{"axis":{"x":"independent","y":"independent"}},
"layer":[
{"data":{"name":"R"},"mark":{"type":"line","strokeWidth":1.5,"clip":true},
"encoding":{
"x":{"field":"x","type":"quantitative","scale":{"domain":[-3.6,0],"nice":false,"zero":false},
"axis":{"orient":"bottom","values":[-3.5,-3,-2.5,-2,-1.5,-1,-0.5,0],"labelExpr":"datum.value % 1 == 0 ? (datum.value < 0 ? '-' + abs(datum.value) : '' + datum.value) : ''","tickSize":{"condition":{"test":"datum.value % 1 == 0","value":-7},"value":-4},"labelPadding":6,"title":"log( δ )","titleX":65,"titleY":24,"titleBaseline":"alphabetic"}},
"y":{"field":"dz","type":"quantitative","scale":{"type":"log","domain":[0.0049,5.18],"nice":false},
"axis":{"orient":"right","values":[0.005,0.006,0.007,0.008,0.009,0.01,0.02,0.03,0.04,0.05,0.06,0.07,0.08,0.09,0.1,0.2,0.3,0.4,0.5,0.6,0.7,0.8,0.9,1,2,3,4,5],
"labelExpr":"datum.value == 1 ? '10⁰' : datum.value == 0.01 ? '10⁻²' : ''",
"tickSize":{"condition":{"test":"indexof([0.01,0.1,1], datum.value) >= 0","value":-7},"value":-4},"labelPadding":7,
"title":"δZ","titleAngle":0,"titleX":11,"titleY":125,"titleAlign":"center","titleBaseline":"middle","titleFontSize":15,"titleFontWeight":"bold"}},
"color":{"field":"c","type":"nominal","scale":{"domain":["0%","1%","5%","7%"],"range":["#000000","#ff0000","#00ff00","#0000ff"]},"legend":null},
"detail":{"field":"k","type":"nominal"}}},
{"data":{"name":"RO"},"mark":{"type":"line","strokeWidth":2.6,"color":"#0000ff","clip":true},
"encoding":{"x":{"field":"x","type":"quantitative","axis":null},"y":{"field":"dz","type":"quantitative","axis":null}}},
{"data":{"values":[{"x":-3.07,"dz":0.033},{"x":0,"dz":3.02}]},"mark":{"type":"line","color":"#ff00ff","strokeWidth":1},
"encoding":{
"x":{"field":"x","type":"quantitative","axis":{"orient":"top","values":[-3.5,-3,-2.5,-2,-1.5,-1,-0.5,0],"labels":false,"title":null,"tickSize":{"condition":{"test":"datum.value % 1 == 0","value":-7},"value":-4}}},
"y":{"field":"dz","type":"quantitative","axis":{"orient":"left","values":[0.005,0.006,0.007,0.008,0.009,0.01,0.02,0.03,0.04,0.05,0.06,0.07,0.08,0.09,0.1,0.2,0.3,0.4,0.5,0.6,0.7,0.8,0.9,1,2,3,4,5],"labels":false,"title":null,"tickSize":{"condition":{"test":"indexof([0.01,0.1,1], datum.value) >= 0","value":-7},"value":-4}}}}},
{"data":{"values":[{"x":-1.27,"dz":0.0207},{"x":-2.974,"dz":0.0464}]},"mark":{"type":"line","color":"black","strokeWidth":1.6},
"encoding":{"x":{"field":"x","type":"quantitative","axis":null},"y":{"field":"dz","type":"quantitative","axis":null}}},
{"data":{"values":[{"x":-2.974,"dz":0.0464}]},"mark":{"type":"point","shape":"triangle-left","filled":true,"color":"black","size":55,"angle":25,"opacity":1},
"encoding":{"x":{"field":"x","type":"quantitative","axis":null},"y":{"field":"dz","type":"quantitative","axis":null}}},
{"data":{"values":[{"x":-3.17,"dz":0.066,"t":"p~10⁶"},{"x":-1.32,"dz":0.029,"t":"p~10²"}]},"mark":{"type":"text","font":"Liberation Serif","fontSize":9,"color":"black"},
"encoding":{"x":{"field":"x","type":"quantitative","axis":null},"y":{"field":"dz","type":"quantitative","axis":null},"text":{"field":"t"}}},
{"data":{"values":[{"x":-1.08,"dz":0.32,"t":"0.65"}]},"mark":{"type":"text","font":"Liberation Serif","fontSize":9,"fontWeight":"bold","color":"#ff00ff"},
"encoding":{"x":{"field":"x","type":"quantitative","axis":null},"y":{"field":"dz","type":"quantitative","axis":null},"text":{"field":"t"}}}
]
}
]
}
